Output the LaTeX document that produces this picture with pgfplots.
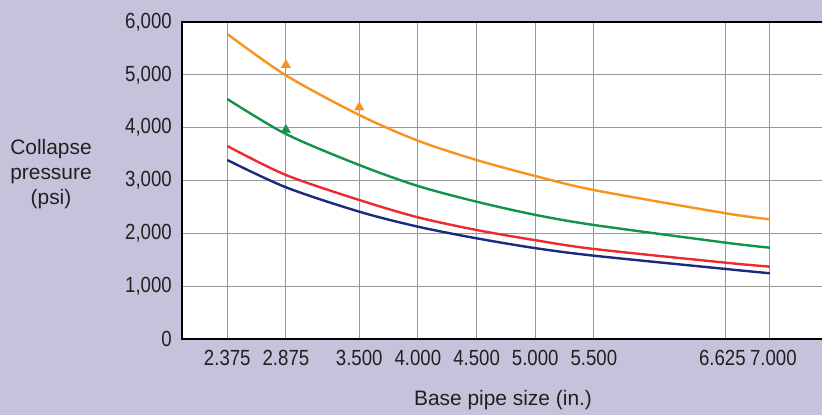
\documentclass[border=0pt]{standalone}
\usepackage{fontspec}
\setmainfont{Liberation Sans}
\newfontfamily\tickfont{Liberation Sans}[FakeStretch=0.85]
\usepackage{pgfplots}
\pgfplotsset{compat=1.18}
\definecolor{bgl}{RGB}{197,195,219}
\definecolor{txt}{RGB}{35,31,32}
\definecolor{corange}{RGB}{247,147,30}
\definecolor{cgreen}{RGB}{18,147,74}
\definecolor{cred}{RGB}{238,42,47}
\definecolor{cblue}{RGB}{27,42,128}
\begin{document}
\fontsize{21}{26}\selectfont
\begin{tikzpicture}
\fill[bgl] (0,0) rectangle (822bp,415bp);
\useasboundingbox (0,0) rectangle (822bp,415bp);
\begin{axis}[
  at={(182bp,76bp)}, anchor=south west,
  scale only axis, width=650bp, height=317bp,
  xmin=1.989, xmax=7.530, ymin=0, ymax=6000,
  axis background/.style={fill=white},
  axis line style={line width=1.6bp, black},
  major tick length=0pt,
  grid=major,
  major grid style={line width=0.9bp, black!40},
  xtick={2.375,2.875,3.5,4,4.5,5,5.5,6.625,7},
  xticklabels={2.375,2.875,3.500,4.000,4.500,5.000,5.500,{6.625\rule{7bp}{0pt}},{\rule{7bp}{0pt}7.000}},
  ytick={0,1000,2000,3000,4000,5000,6000},
  yticklabels={0,{1,000},{2,000},{3,000},{4,000},{5,000},{6,000}},
  ticklabel style={font=\tickfont\fontsize{22}{26}\selectfont, text=txt},
  yticklabel style={xshift=-3bp},
  xticklabel style={yshift=-4bp},
]
\addplot[corange, line width=2.4bp, smooth, mark=none] coordinates {(2.375,5773) (2.875,4990) (3.5,4240) (4.0,3754) (4.5,3388) (5.0,3085) (5.5,2820) (6.625,2379) (7.0,2266)};
\addplot[cgreen, line width=2.4bp, smooth, mark=none] coordinates {(2.375,4543) (2.875,3880) (3.5,3293) (4.0,2896) (4.5,2599) (5.0,2350) (5.5,2158) (6.625,1823) (7.0,1728)};
\addplot[cred, line width=2.4bp, smooth, mark=none] coordinates {(2.375,3653) (2.875,3104) (3.5,2631) (4.0,2303) (4.5,2063) (5.0,1870) (5.5,1704) (6.625,1444) (7.0,1369)};
\addplot[cblue, line width=2.4bp, smooth, mark=none] coordinates {(2.375,3388) (2.875,2871) (3.5,2410) (4.0,2126) (4.5,1906) (5.0,1720) (5.5,1577) (6.625,1325) (7.0,1244)};
\addplot[corange, only marks, mark=triangle*, mark size=5.5bp, mark options={solid, draw=corange, fill=corange, line width=0.3bp}] coordinates {(2.875,5186) (3.5,4386)};
\addplot[cgreen, only marks, mark=triangle*, mark size=5.5bp, mark options={solid, draw=cgreen, fill=cgreen, line width=0.3bp}] coordinates {(2.875,3956)};
\end{axis}
\node[align=center, text=txt, font=\fontsize{21}{25}\selectfont] at (51bp,241bp) {Collapse\\pressure\\(psi)};
\node[text=txt, font=\fontsize{21}{26}\selectfont] at (503bp,15bp) {Base pipe size (in.)};
\end{tikzpicture}
\end{document}
